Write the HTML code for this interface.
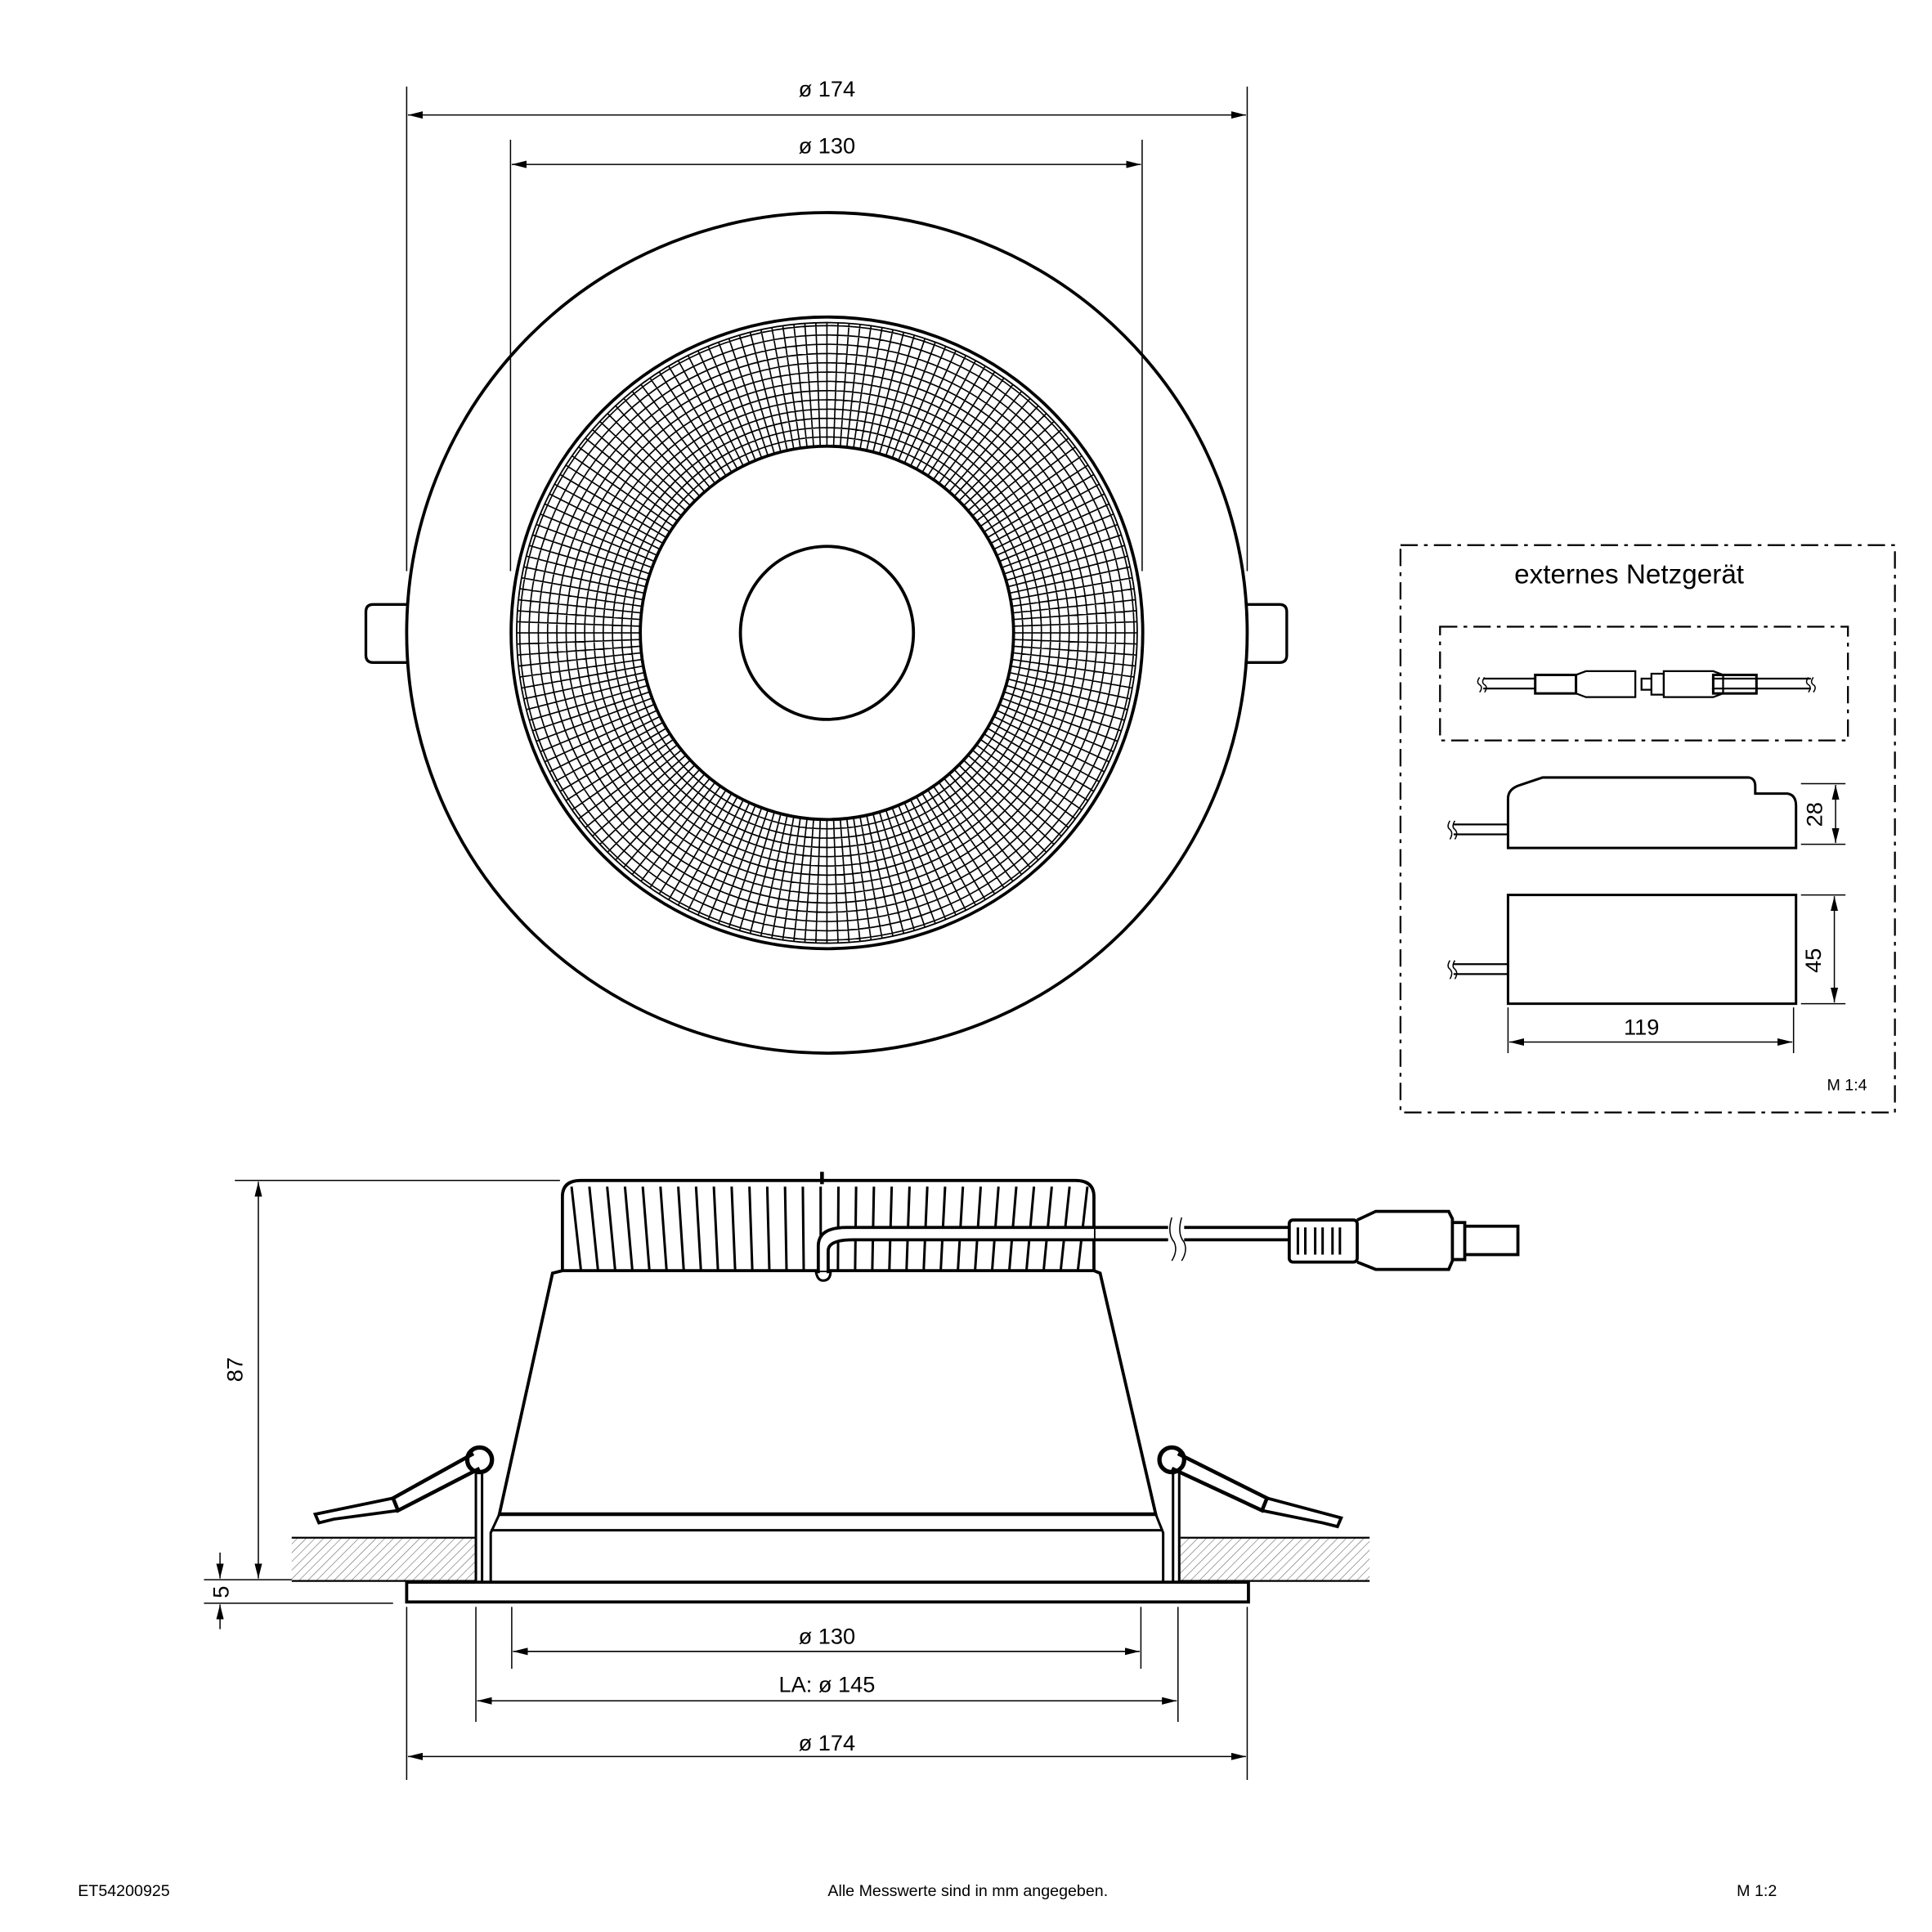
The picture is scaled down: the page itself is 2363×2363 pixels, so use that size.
<!DOCTYPE html>
<html><head><meta charset="utf-8"><style>
html,body{margin:0;padding:0;background:#fff}
svg{display:block}
text{font-family:"Liberation Sans",sans-serif;fill:#000}
</style></head><body>
<svg id="s" width="2363" height="2363" viewBox="0 0 1563 1563" xmlns="http://www.w3.org/2000/svg">
<defs>
<marker id="a" viewBox="0 0 12 6" refX="12" refY="3" markerWidth="12" markerHeight="6" orient="auto-start-reverse" markerUnits="userSpaceOnUse"><path d="M0,0 L12,3 L0,6z" fill="#000"/></marker>
<pattern id="h" width="5" height="5" patternUnits="userSpaceOnUse" patternTransform="rotate(45)"><line x1="0" y1="0" x2="0" y2="5" stroke="#555" stroke-width="0.7"/></pattern>
</defs>
<g fill="none" stroke="#000">
<circle cx="669" cy="512" r="340" stroke-width="2.5"/>
<g id="grid" stroke-width="1.1"></g>
<circle cx="669" cy="512" r="255.5" stroke-width="2.5"/>
<circle cx="669" cy="512" r="251" stroke-width="1.2"/>
<circle cx="669" cy="512" r="151" stroke-width="2.5"/>
<circle cx="669" cy="512" r="70" stroke-width="2.5"/>
<path d="M329,489 H302 Q296,489 296,495 V530 Q296,536 302,536 H329" stroke-width="2.2"/>
<path d="M1009,489 H1035 Q1041,489 1041,495 V530 Q1041,536 1035,536 H1009" stroke-width="2.2"/>
<g stroke-width="1">
<line x1="329" y1="70" x2="329" y2="462"/><line x1="1009" y1="70" x2="1009" y2="462"/>
<line x1="413" y1="113" x2="413" y2="462"/><line x1="924" y1="113" x2="924" y2="462"/>
<line x1="330" y1="93" x2="1008" y2="93" marker-start="url(#a)" marker-end="url(#a)"/>
<line x1="414" y1="133" x2="923" y2="133" marker-start="url(#a)" marker-end="url(#a)"/>
</g>
<path d="M455,1028 V968 Q455,955 470,955 H870 Q885,955 885,968 V1028" stroke-width="2.5"/>
<g id="fins" stroke-width="2"></g>
<line x1="665" y1="948" x2="665" y2="958" stroke-width="3"/>
<path d="M455,1028 H885 L890,1030 L935,1225 H404 L447,1030 Z" stroke-width="2.5" fill="#fff"/>
<line x1="404" y1="1225" x2="935" y2="1225" stroke-width="3"/>
<path d="M404,1225 L397,1240 V1280 M935,1225 L941,1240 V1280" stroke-width="2"/>
<line x1="397" y1="1238" x2="941" y2="1238" stroke-width="2"/>
<rect x="329" y="1280" width="681" height="16" stroke-width="2.5"/>
<rect x="236" y="1244" width="149" height="35" fill="url(#h)" stroke="none"/>
<rect x="955" y="1244" width="153" height="35" fill="url(#h)" stroke="none"/>
<path d="M236,1244 H385 M236,1279 H385 M955,1244 H1108 M955,1279 H1108" stroke-width="1.5"/>
<g stroke-width="2">
<line x1="385" y1="1192" x2="385" y2="1280"/><line x1="390" y1="1192" x2="390" y2="1280"/>
<circle cx="388" cy="1181" r="10" stroke-width="3.5"/>
<path d="M383,1176 L318,1212 L322,1222 L388,1188" stroke-width="3"/>
<path d="M318,1212 L255,1225 L258,1232 L270,1229 L322,1222" stroke-width="2.5"/>
<line x1="949" y1="1192" x2="949" y2="1280"/><line x1="954" y1="1192" x2="954" y2="1280"/>
<circle cx="948" cy="1181" r="10" stroke-width="3.5"/>
<path d="M953,1176 L1025,1212 L1021,1222 L948,1188" stroke-width="3"/>
<path d="M1025,1212 L1085,1228 L1082,1235 L1070,1232 L1021,1222" stroke-width="2.5"/>
</g>
<path d="M662,1028 V1008 Q662,993 685,993 H885 L885,1003 H690 Q670,1003 670,1012 V1028 Z" stroke="none" fill="#fff"/>
<path d="M662,1030 V1008 Q662,993 685,993 H945 M670,1030 V1012 Q670,1003 690,1003 H945" stroke-width="2.5"/>
<path d="M660,1028 Q661,1036 666,1036 Q672,1036 672,1028" stroke-width="2"/>
<path d="M958,993 H1043 M958,1003 H1043" stroke-width="2.5"/>
<path d="M948,985 Q944,998 950,1005 Q953,1012 948,1020 M956,985 Q952,998 958,1005 Q961,1012 956,1020" stroke-width="1"/>
<rect x="1043" y="987" width="55" height="34" rx="3" stroke-width="2.5"/>
<path d="M1050,993 V1015 M1056,993 V1015 M1064,993 V1015 M1070,993 V1015 M1078,993 V1015 M1084,993 V1015" stroke-width="2"/>
<path d="M1098,987 L1113,980 H1172 L1175,986 V1020 L1172,1027 H1113 L1098,1021" stroke-width="2.5"/>
<path d="M1175,989 H1185 V1019 H1175 M1185,992 H1228 V1015 H1185" stroke-width="2.5"/>
<g stroke-width="1">
<line x1="190" y1="955" x2="453" y2="955"/>
<line x1="165" y1="1278" x2="236" y2="1278"/>
<line x1="165" y1="1297" x2="318" y2="1297"/>
<line x1="209" y1="956" x2="209" y2="1277" marker-start="url(#a)" marker-end="url(#a)"/>
<line x1="178" y1="1256" x2="178" y2="1277" marker-end="url(#a)"/>
<line x1="178" y1="1318" x2="178" y2="1298" marker-end="url(#a)"/>
<line x1="329" y1="1300" x2="329" y2="1440"/><line x1="1009" y1="1300" x2="1009" y2="1440"/>
<line x1="385" y1="1300" x2="385" y2="1393"/><line x1="953" y1="1300" x2="953" y2="1393"/>
<line x1="414" y1="1300" x2="414" y2="1350"/><line x1="923" y1="1300" x2="923" y2="1350"/>
<line x1="415" y1="1336" x2="922" y2="1336" marker-start="url(#a)" marker-end="url(#a)"/>
<line x1="386" y1="1376" x2="952" y2="1376" marker-start="url(#a)" marker-end="url(#a)"/>
<line x1="330" y1="1421" x2="1008" y2="1421" marker-start="url(#a)" marker-end="url(#a)"/>
</g>
<rect x="1133" y="441" width="400" height="459" stroke-width="1.5" stroke-dasharray="14,5,3,5"/>
<rect x="1165" y="507" width="330" height="92" stroke-width="1.5" stroke-dasharray="14,5,3,5"/>
<g stroke-width="1.5">
<path d="M1200,549 H1242 M1200,557 H1242 M1385,549 H1465 M1385,557 H1465"/>
<rect x="1242" y="546" width="33" height="15" stroke-width="2"/>
<path d="M1275,546 L1283,543 H1323 V564 H1283 L1275,561Z"/>
<path d="M1328,549 H1336 V558 H1328Z M1336,545 H1346 V562 H1336Z"/>
<path d="M1346,543 H1386 L1394,546 V561 L1386,564 H1346Z"/>
<rect x="1386" y="546" width="35" height="15" stroke-width="2"/>
<path d="M1197,548 q-3,4 0,6 q3,2 0,6 M1201,548 q-3,4 0,6 q3,2 0,6 M1463,548 q-3,4 0,6 q3,2 0,6 M1467,548 q-3,4 0,6 q3,2 0,6" stroke-width="1"/>
<path d="M1220,686 V646 Q1220,638 1230,635 L1248,629 H1415 Q1420,630 1420,636 V642 H1446 Q1453,643 1453,652 V686 Z" stroke-width="2"/>
<path d="M1176,667 H1220 M1176,675 H1220"/>
<path d="M1173,664 q-3,5 0,7 q3,3 0,8 M1177,664 q-3,5 0,7 q3,3 0,8" stroke-width="1"/>
<rect x="1220" y="724" width="233" height="88" stroke-width="2"/>
<path d="M1176,780 H1220 M1176,788 H1220"/>
<path d="M1173,777 q-3,5 0,7 q3,3 0,8 M1177,777 q-3,5 0,7 q3,3 0,8" stroke-width="1"/>
</g>
<g stroke-width="1">
<line x1="1457" y1="634" x2="1493" y2="634"/><line x1="1457" y1="683" x2="1493" y2="683"/>
<line x1="1485" y1="635" x2="1485" y2="682" marker-start="url(#a)" marker-end="url(#a)"/>
<line x1="1457" y1="724" x2="1493" y2="724"/><line x1="1457" y1="812" x2="1493" y2="812"/>
<line x1="1484" y1="725" x2="1484" y2="811" marker-start="url(#a)" marker-end="url(#a)"/>
<line x1="1220" y1="815" x2="1220" y2="852"/><line x1="1451" y1="815" x2="1451" y2="852"/>
<line x1="1221" y1="843" x2="1450" y2="843" marker-start="url(#a)" marker-end="url(#a)"/>
</g>
</g>
<g font-size="18" text-anchor="middle">
<text x="669" y="78">ø 174</text>
<text x="669" y="124">ø 130</text>
<text x="669" y="1330">ø 130</text>
<text x="669" y="1369">LA: ø 145</text>
<text x="669" y="1416">ø 174</text>
<text x="1328" y="837">119</text>
<text transform="translate(196,1108) rotate(-90)">87</text>
<text transform="translate(185,1288) rotate(-90)">5</text>
<text transform="translate(1474,659) rotate(-90)">28</text>
<text transform="translate(1473,777) rotate(-90)">45</text>
</g>
<text x="1318" y="472" font-size="22" text-anchor="middle">externes Netzgerät</text>
<text x="1478" y="882" font-size="13">M 1:4</text>
<g font-size="13">
<text x="63" y="1534">ET54200925</text>
<text x="783" y="1534" text-anchor="middle">Alle Messwerte sind in mm angegeben.</text>
<text x="1405" y="1534">M 1:2</text>
</g>
</svg>
<script>
var NS="http://www.w3.org/2000/svg",g=document.getElementById("grid"),cx=669,cy=512,d="";
for(var r=158.5;r<251;r+=7.5){d+="M"+(cx+r)+","+cy+"a"+r+","+r+" 0 1,0 "+(-2*r)+",0a"+r+","+r+" 0 1,0 "+(2*r)+",0";}
var n=176;for(var i=0;i<n;i++){var t=i/n*2*Math.PI,c=Math.cos(t),s=Math.sin(t);d+="M"+(cx+151*c).toFixed(1)+","+(cy+151*s).toFixed(1)+"L"+(cx+251*c).toFixed(1)+","+(cy+251*s).toFixed(1);}
var p=document.createElementNS(NS,"path");p.setAttribute("d",d);g.appendChild(p);
var f=document.getElementById("fins"),fd="";
for(var x=468;x<880;x+=14){var k=(x-669)/215;fd+="M"+(x+k*6).toFixed(1)+",960 L"+(x-k*2).toFixed(1)+",1027";}
var q=document.createElementNS(NS,"path");q.setAttribute("d",fd);f.appendChild(q);
</script>
</body></html>
